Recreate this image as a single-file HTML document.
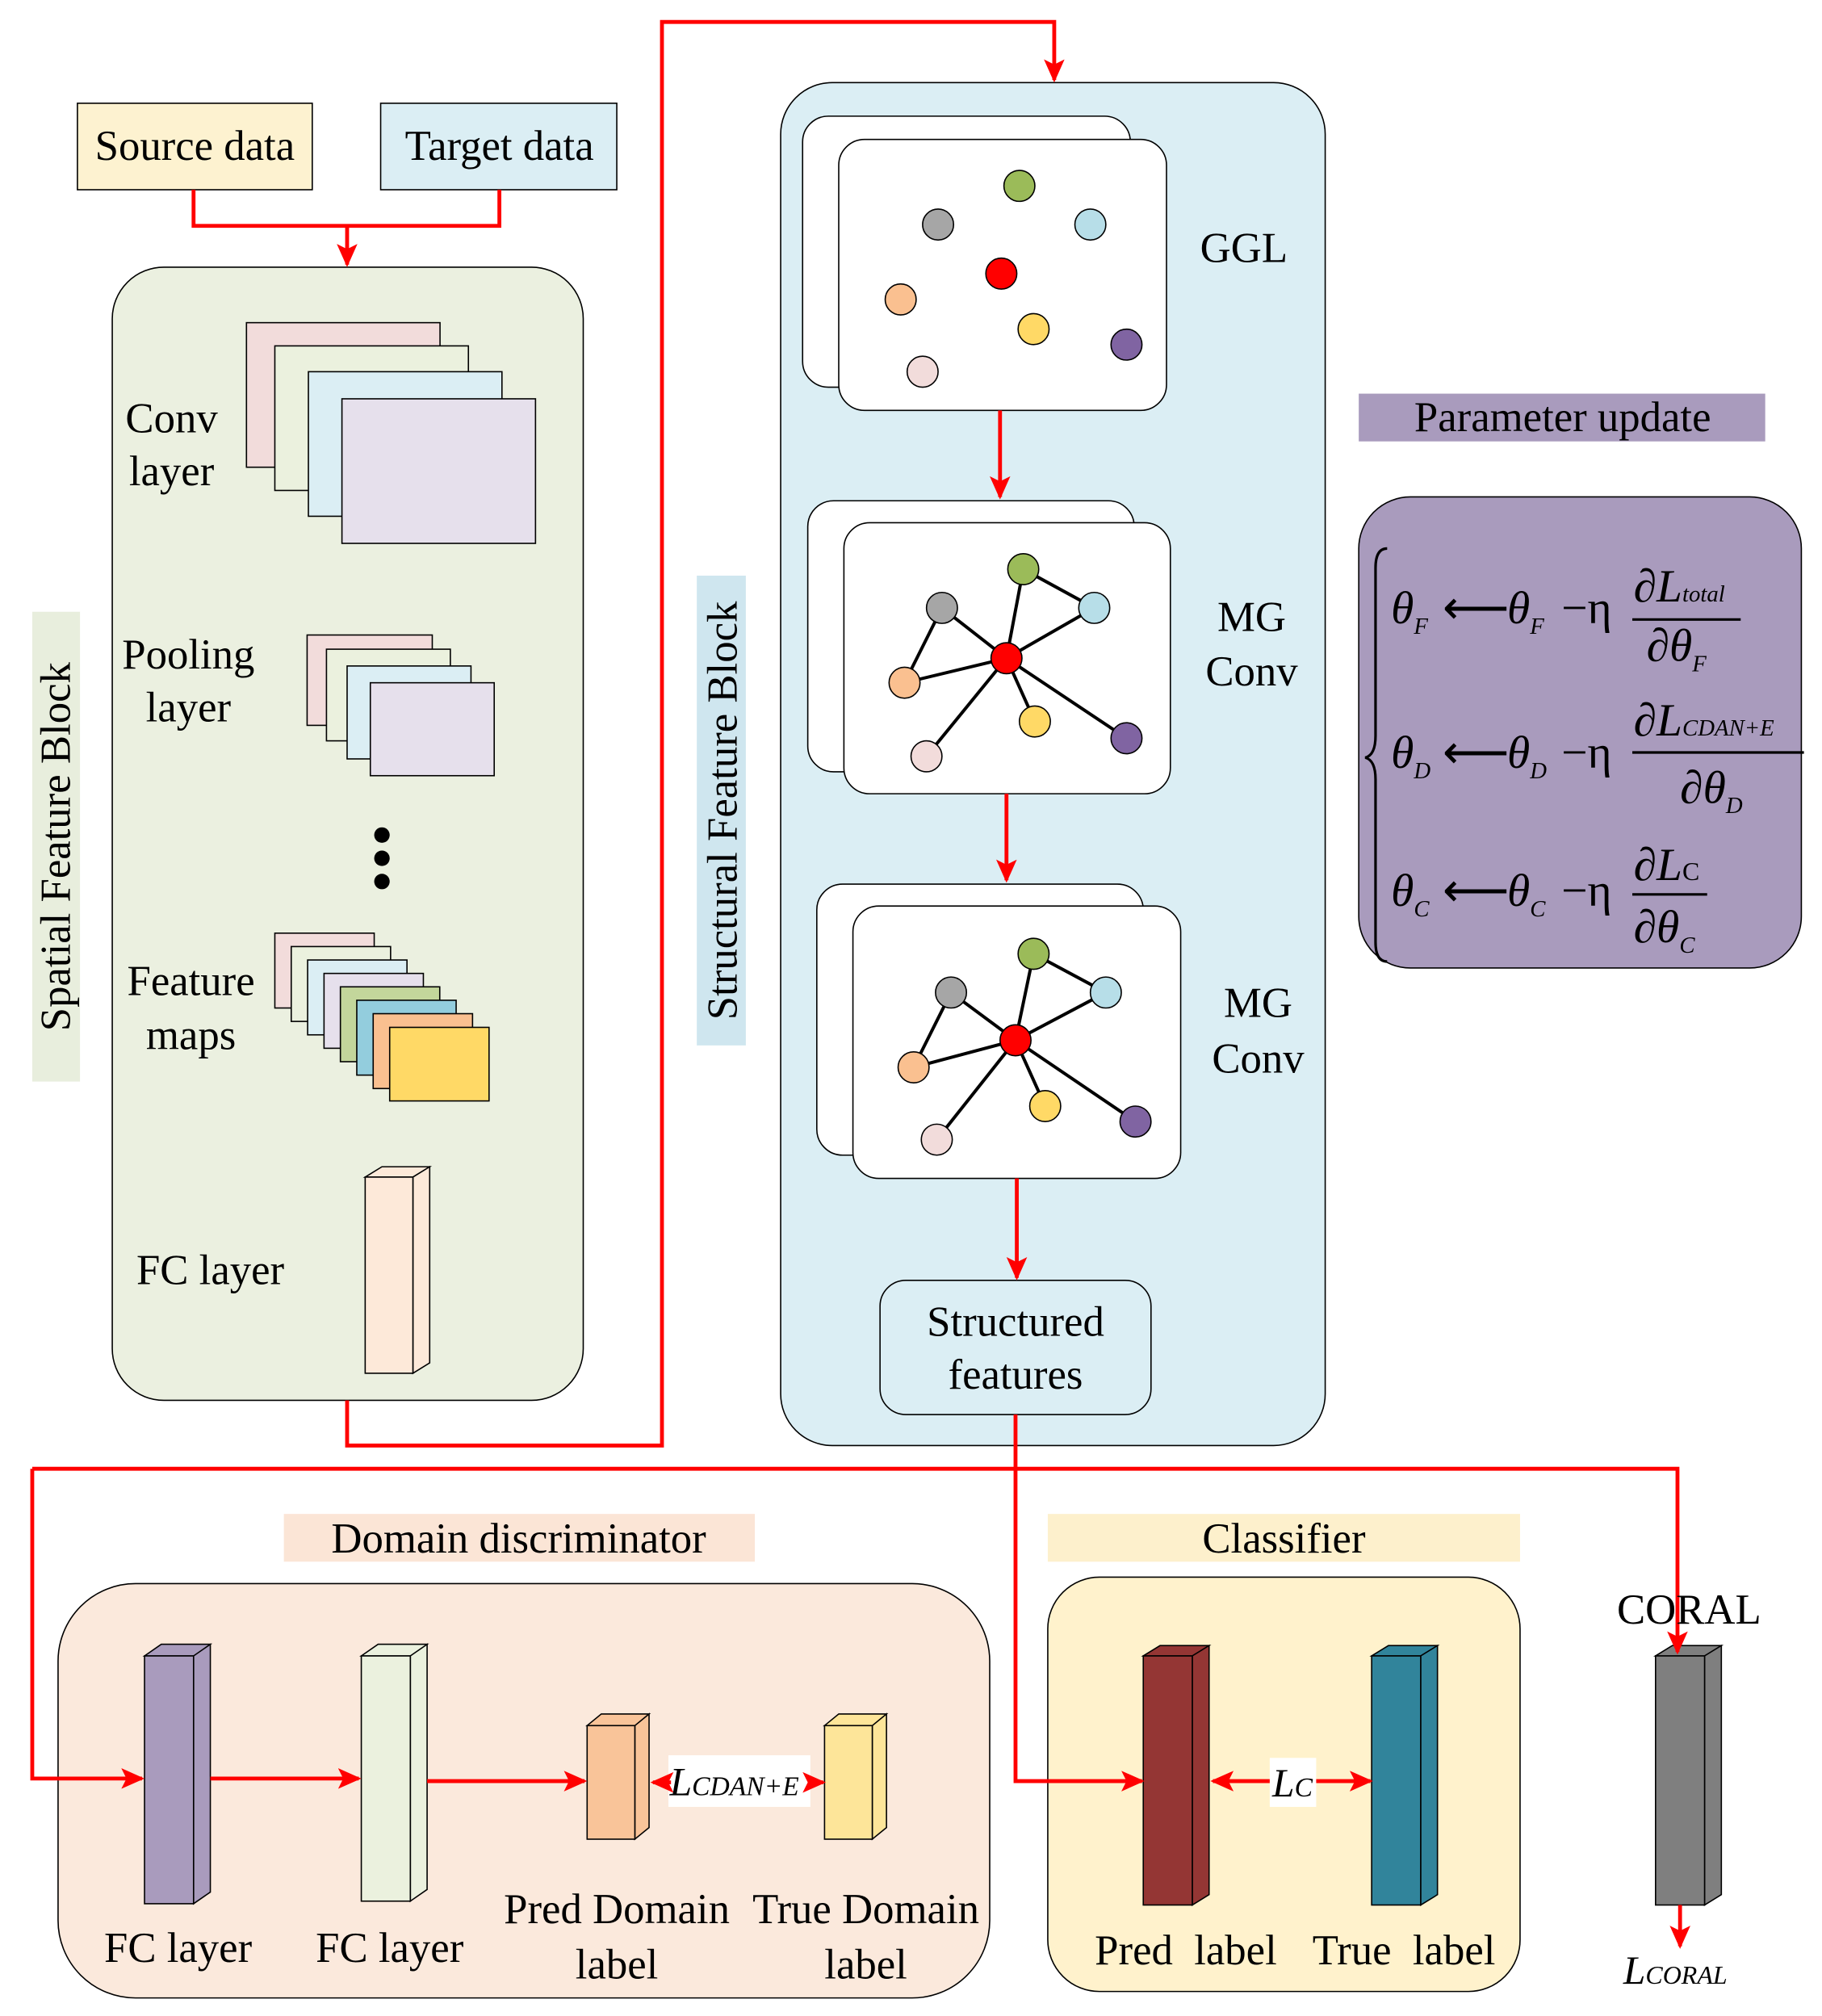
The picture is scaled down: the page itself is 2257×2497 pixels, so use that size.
<!DOCTYPE html>
<html><head><meta charset="utf-8"><style>
html,body{margin:0;padding:0;background:#fff;}
svg{display:block;}
text{font-family:"Liberation Serif",serif;fill:#000;}
</style></head><body>
<svg width="2257" height="2497" viewBox="0 0 1412 1562" preserveAspectRatio="none" xmlns="http://www.w3.org/2000/svg">
<defs>
<marker id="a" markerUnits="userSpaceOnUse" markerWidth="20" markerHeight="20" refX="16" refY="8" orient="auto"><path d="M0,0 L18,8 L0,16 L4,8 Z" fill="#f00"/></marker>
</defs>
<g stroke="#000" stroke-width="1">
<rect x="60" y="80" width="182" height="67" fill="#fdf2d0"/>
<rect x="295" y="80" width="183" height="67" fill="#dbeef4"/>
<rect x="87" y="207" width="365" height="878" rx="40" fill="#ebf0e0"/>
<rect x="25" y="474" width="37" height="364" fill="#e8eedd" stroke="none"/>
<rect x="191" y="250" width="150" height="112" fill="#f2dcdb"/>
<rect x="213" y="268" width="150" height="112" fill="#ebf1de"/>
<rect x="239" y="288" width="150" height="112" fill="#dbeef4"/>
<rect x="265" y="309" width="150" height="112" fill="#e6e0ec"/>
<rect x="238" y="492" width="97" height="70" fill="#f2dcdb"/>
<rect x="253" y="503" width="96" height="71" fill="#ebf1de"/>
<rect x="269" y="516" width="96" height="72" fill="#dbeef4"/>
<rect x="287" y="529" width="96" height="72" fill="#e6e0ec"/>
<rect x="213" y="723" width="77" height="58" fill="#f2dcdb"/>
<rect x="225.7" y="733.4" width="77" height="58" fill="#ebf1de"/>
<rect x="238.4" y="743.8" width="77" height="58" fill="#dbeef4"/>
<rect x="251.1" y="754.2" width="77" height="58" fill="#e6e0ec"/>
<rect x="263.8" y="764.6" width="77" height="58" fill="#c3d69b"/>
<rect x="276.5" y="775" width="77" height="58" fill="#93cddd"/>
<rect x="289.2" y="785.4" width="77" height="58" fill="#fac090"/>
<rect x="302" y="796" width="77" height="57" fill="#ffd966"/>
<path d="M283,912 L296,904 L333,904 L320,912 Z" fill="#fde9d9"/>
<path d="M320,912 L333,904 L333,1056 L320,1064 Z" fill="#fde9d9"/>
<rect x="283" y="912" width="37" height="152" fill="#fde9d9"/>
<rect x="605" y="64" width="422" height="1056" rx="40" fill="#dbeef4"/>
<rect x="540" y="446" width="38" height="364" fill="#cfe6ef" stroke="none"/>
<rect x="622" y="90" width="254" height="210" rx="20" fill="#fff"/>
<rect x="650" y="108" width="254" height="210" rx="20" fill="#fff"/>
<rect x="626" y="388" width="253" height="210" rx="20" fill="#fff"/>
<rect x="654" y="405" width="253" height="210" rx="20" fill="#fff"/>
<rect x="633" y="685" width="253" height="210" rx="20" fill="#fff"/>
<rect x="661" y="702" width="254" height="211" rx="20" fill="#fff"/>
<rect x="682" y="992" width="210" height="104" rx="20" fill="#dbeef4"/>
<rect x="1053" y="305" width="315" height="37" fill="#a99bbd" stroke="none"/>
<rect x="1053" y="385" width="343" height="365" rx="40" fill="#a99bbd"/>
<rect x="220" y="1173" width="365" height="37" fill="#fbe5d6" stroke="none"/>
<rect x="45" y="1227" width="722" height="321" rx="60" fill="#fbe9dc"/>
<rect x="812" y="1173" width="366" height="37" fill="#fdf0cc" stroke="none"/>
<rect x="812" y="1222" width="366" height="321" rx="40" fill="#fff2cc"/>
</g>
<g stroke="#000" stroke-width="1">
<circle cx="790" cy="144" r="12" fill="#9bbb59"/><circle cx="727" cy="174" r="12" fill="#a6a6a6"/><circle cx="845" cy="174" r="12" fill="#b7dee8"/><circle cx="776" cy="212" r="12" fill="#f00"/><circle cx="698" cy="232" r="12" fill="#fac090"/><circle cx="801" cy="255" r="12" fill="#ffd966"/><circle cx="873" cy="267" r="12" fill="#8064a2"/><circle cx="715" cy="288" r="12" fill="#f2dcdb"/>
</g>
<g stroke="#000" stroke-width="2.5">
<line x1="780" y1="510" x2="793" y2="441"/><line x1="780" y1="510" x2="730" y2="471"/><line x1="780" y1="510" x2="848" y2="471"/><line x1="780" y1="510" x2="701" y2="529"/><line x1="780" y1="510" x2="802" y2="559"/><line x1="780" y1="510" x2="873" y2="572"/><line x1="780" y1="510" x2="718" y2="586"/><line x1="730" y1="471" x2="701" y2="529"/><line x1="793" y1="441" x2="848" y2="471"/>
</g>
<g stroke="#000" stroke-width="1">
<circle cx="793" cy="441" r="12" fill="#9bbb59"/><circle cx="730" cy="471" r="12" fill="#a6a6a6"/><circle cx="848" cy="471" r="12" fill="#b7dee8"/><circle cx="780" cy="510" r="12" fill="#f00"/><circle cx="701" cy="529" r="12" fill="#fac090"/><circle cx="802" cy="559" r="12" fill="#ffd966"/><circle cx="873" cy="572" r="12" fill="#8064a2"/><circle cx="718" cy="586" r="12" fill="#f2dcdb"/>
</g>
<g stroke="#000" stroke-width="2.5">
<line x1="787" y1="806" x2="801" y2="739"/><line x1="787" y1="806" x2="737" y2="769"/><line x1="787" y1="806" x2="857" y2="769"/><line x1="787" y1="806" x2="708" y2="827"/><line x1="787" y1="806" x2="810" y2="857"/><line x1="787" y1="806" x2="880" y2="869"/><line x1="787" y1="806" x2="726" y2="883"/><line x1="737" y1="769" x2="708" y2="827"/><line x1="801" y1="739" x2="857" y2="769"/>
</g>
<g stroke="#000" stroke-width="1">
<circle cx="801" cy="739" r="12" fill="#9bbb59"/><circle cx="737" cy="769" r="12" fill="#a6a6a6"/><circle cx="857" cy="769" r="12" fill="#b7dee8"/><circle cx="787" cy="806" r="12" fill="#f00"/><circle cx="708" cy="827" r="12" fill="#fac090"/><circle cx="810" cy="857" r="12" fill="#ffd966"/><circle cx="880" cy="869" r="12" fill="#8064a2"/><circle cx="726" cy="883" r="12" fill="#f2dcdb"/>
</g>
<circle cx="296" cy="647" r="6" fill="#000"/><circle cx="296" cy="665" r="6" fill="#000"/><circle cx="296" cy="683" r="6" fill="#000"/>
<g stroke="#000" stroke-width="1">
<path d="M112,1283 L125,1274 L163,1274 L150,1283 Z M150,1283 L163,1274 L163,1466 L150,1475 Z" fill="#a99bbd"/><rect x="112" y="1283" width="38" height="192" fill="#a99bbd"/>
<path d="M280,1283 L293,1274 L331,1274 L318,1283 Z M318,1283 L331,1274 L331,1464 L318,1473 Z" fill="#ebf1de"/><rect x="280" y="1283" width="38" height="190" fill="#ebf1de"/>
<path d="M455,1337 L466,1328 L503,1328 L492,1337 Z M492,1337 L503,1328 L503,1416 L492,1425 Z" fill="#f9c499"/><rect x="455" y="1337" width="37" height="88" fill="#f9c499"/>
<path d="M639,1337 L650,1328 L687,1328 L676,1337 Z M676,1337 L687,1328 L687,1416 L676,1425 Z" fill="#fde599"/><rect x="639" y="1337" width="37" height="88" fill="#fde599"/>
<path d="M886,1283 L899,1275 L937,1275 L924,1283 Z M924,1283 L937,1275 L937,1468 L924,1476 Z" fill="#943634"/><rect x="886" y="1283" width="38" height="193" fill="#943634"/>
<path d="M1063,1283 L1076,1275 L1114,1275 L1101,1283 Z M1101,1283 L1114,1275 L1114,1468 L1101,1476 Z" fill="#31849b"/><rect x="1063" y="1283" width="38" height="193" fill="#31849b"/>
<path d="M1283,1283 L1296,1275 L1334,1275 L1321,1283 Z M1321,1283 L1334,1275 L1334,1468 L1321,1476 Z" fill="#7f7f7f"/><rect x="1283" y="1283" width="38" height="193" fill="#7f7f7f"/>
</g>
<rect x="518" y="1360" width="110" height="40" fill="#fff"/>
<rect x="984" y="1362" width="36" height="38" fill="#fff"/>
<g stroke="#f00" stroke-width="3" fill="none">
<polyline points="150,147 150,175 387,175 387,147"/>
<line x1="269" y1="175" x2="269" y2="205" marker-end="url(#a)"/>
<polyline points="269,1085 269,1120 513,1120 513,17 817,17 817,62" marker-end="url(#a)"/>
<line x1="775" y1="318" x2="775" y2="385" marker-end="url(#a)"/>
<line x1="780" y1="615" x2="780" y2="682" marker-end="url(#a)"/>
<line x1="788" y1="913" x2="788" y2="990" marker-end="url(#a)"/>
<polyline points="787,1096 787,1380 885,1380" marker-end="url(#a)"/>
<polyline points="25,1138 1300,1138 1300,1280" marker-end="url(#a)"/>
<polyline points="25,1138 25,1378 110,1378" marker-end="url(#a)"/>
<line x1="163" y1="1378" x2="278" y2="1378" marker-end="url(#a)"/>
<line x1="331" y1="1380" x2="453" y2="1380" marker-end="url(#a)"/>
<line x1="520" y1="1381" x2="506" y2="1381" marker-end="url(#a)"/>
<line x1="626" y1="1381" x2="638" y2="1381" marker-end="url(#a)"/>
<line x1="984" y1="1380" x2="940" y2="1380" marker-end="url(#a)"/>
<line x1="1020" y1="1380" x2="1062" y2="1380" marker-end="url(#a)"/>
<line x1="1302" y1="1476" x2="1302" y2="1508" marker-end="url(#a)"/>
</g>
<g font-size="33" text-anchor="middle">
<text x="151" y="124">Source data</text>
<text x="387" y="124">Target data</text>
<text x="133" y="335">Conv</text><text x="133" y="376">layer</text>
<text x="146" y="518">Pooling</text><text x="146" y="559">layer</text>
<text x="148" y="771">Feature</text><text x="148" y="813">maps</text>
<text x="163" y="995">FC layer</text>
<text transform="translate(54,656) rotate(-90)">Spatial Feature Block</text>
<text transform="translate(571,628) rotate(-90)">Structural Feature Block</text>
<text x="964" y="203">GGL</text>
<text x="970" y="489">MG</text><text x="970" y="531">Conv</text>
<text x="975" y="788">MG</text><text x="975" y="831">Conv</text>
<text x="787" y="1035">Structured</text><text x="787" y="1076">features</text>
<text x="1211" y="334">Parameter update</text>
<text x="402" y="1203">Domain discriminator</text>
<text x="995" y="1203">Classifier</text>
<text x="1309" y="1258">CORAL</text>
<text x="138" y="1520">FC layer</text>
<text x="302" y="1520">FC layer</text>
<text x="478" y="1490">Pred Domain</text><text x="478" y="1533">label</text>
<text x="671" y="1490">True Domain</text><text x="671" y="1533">label</text>
<text x="919" y="1522">Pred&#160;&#160;label</text>
<text x="1088" y="1522">True&#160;&#160;label</text>
</g>
<g font-style="italic">
<text x="519" y="1391" font-size="31">L<tspan font-size="21">CDAN+E</tspan></text>
<text x="986" y="1392" font-size="31">L<tspan font-size="21">C</tspan></text>
<text x="1258" y="1537" font-size="31">L<tspan font-size="20">CORAL</tspan></text>
</g>
<path d="M1075,425 Q1066,425 1066,440 L1066,570 Q1066,585 1058,587 Q1066,589 1066,604 L1066,730 Q1066,745 1075,745" stroke="#000" stroke-width="2" fill="none"/>
<g font-size="36" font-style="italic">
<text x="1078" y="483">θ<tspan font-size="18" dy="8">F</tspan></text>
<text x="1118" y="483" font-style="normal">⟵</text>
<text x="1168" y="483">θ<tspan font-size="18" dy="8">F</tspan></text>
<text x="1210" y="483" font-style="normal">−η</text>
<text x="1266" y="466">∂L<tspan font-size="18">total</tspan></text>
<text x="1276" y="512">∂θ<tspan font-size="18" dy="8">F</tspan></text>
<text x="1078" y="595">θ<tspan font-size="18" dy="8">D</tspan></text>
<text x="1118" y="595" font-style="normal">⟵</text>
<text x="1168" y="595">θ<tspan font-size="18" dy="8">D</tspan></text>
<text x="1210" y="595" font-style="normal">−η</text>
<text x="1266" y="570">∂L<tspan font-size="18">CDAN+E</tspan></text>
<text x="1302" y="622">∂θ<tspan font-size="18" dy="8">D</tspan></text>
<text x="1078" y="702">θ<tspan font-size="18" dy="8">C</tspan></text>
<text x="1118" y="702" font-style="normal">⟵</text>
<text x="1168" y="702">θ<tspan font-size="18" dy="8">C</tspan></text>
<text x="1210" y="702" font-style="normal">−η</text>
<text x="1266" y="682">∂L<tspan font-size="20" font-style="normal">C</tspan></text>
<text x="1266" y="730">∂θ<tspan font-size="18" dy="8">C</tspan></text>
</g>
<g stroke="#000" stroke-width="2">
<line x1="1265" y1="480" x2="1349" y2="480"/>
<line x1="1265" y1="583" x2="1398" y2="583"/>
<line x1="1265" y1="693" x2="1323" y2="693"/>
</g>
</svg>
</body></html>
